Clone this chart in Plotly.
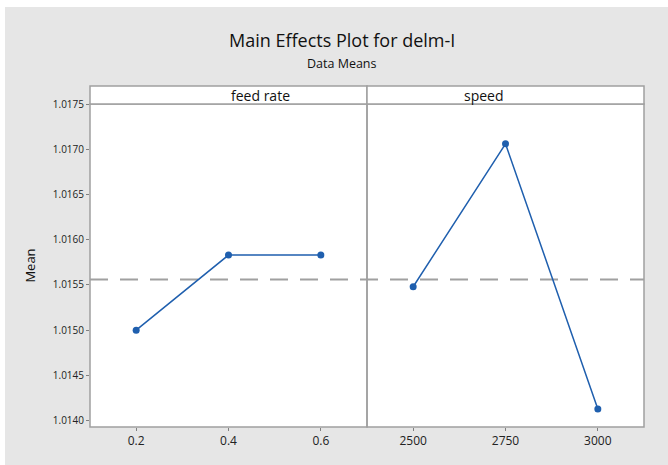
import plotly.graph_objects as go
from plotly.subplots import make_subplots

# Main effects data (means of delm-I at each factor level)
feed_levels = [0.2, 0.4, 0.6]
feed_means = [1.01500, 1.01583, 1.01583]
speed_levels = [2500, 2750, 3000]
speed_means = [1.01548, 1.01706, 1.01413]
grand_mean = 1.01556
y_ticks = [1.0140, 1.0145, 1.0150, 1.0155, 1.0160, 1.0165, 1.0170, 1.0175]
panel_titles = ["feed rate", "speed"]

W, H = 668, 465
L, R, T, B = 90, 24, 104, 38
ph = H - T - B
pw = W - L - R


def px_x(px):
    return (px - L) / pw


def px_y(py):
    return (H - B - py) / ph


line_color = "#1f5fae"
frame_color = "#a0a0a0"
font_family = "Open Sans, DejaVu Sans, sans-serif"

fig = make_subplots(rows=1, cols=2, shared_yaxes=True, horizontal_spacing=0)

fig.add_trace(go.Scatter(x=feed_levels, y=feed_means, mode="lines+markers",
                         line=dict(color=line_color, width=1.5),
                         marker=dict(color=line_color, size=7),
                         showlegend=False), row=1, col=1)
fig.add_trace(go.Scatter(x=speed_levels, y=speed_means, mode="lines+markers",
                         line=dict(color=line_color, width=1.5),
                         marker=dict(color=line_color, size=7),
                         showlegend=False), row=1, col=2)

# grey backdrop behind the whole chart, white data region on top of it
fig.add_shape(type="rect", xref="paper", yref="paper",
              x0=px_x(5), x1=px_x(W + 2), y0=px_y(H + 2), y1=px_y(7),
              fillcolor="#e6e6e6", line=dict(width=0), layer="below")
fig.add_shape(type="rect", xref="paper", yref="paper",
              x0=0, x1=1, y0=0, y1=1,
              fillcolor="white", line=dict(width=0), layer="below")

# grand mean reference line across both panels
fig.add_shape(type="line", xref="paper", yref="y", x0=0, x1=1,
              y0=grand_mean, y1=grand_mean,
              line=dict(color=frame_color, width=2, dash="18px,12px"),
              layer="below")

axis_common = dict(showgrid=False, zeroline=False, showline=False,
                   ticks="outside", ticklen=3, tickcolor="#808080")

fig.update_xaxes(**axis_common, tickfont=dict(size=12, color="#222", family=font_family))
fig.update_yaxes(**axis_common, tickfont=dict(size=10, color="#222", family=font_family))
fig.update_xaxes(range=[0.1, 0.7], tickvals=feed_levels,
                 ticktext=["0.2", "0.4", "0.6"], row=1, col=1)
fig.update_xaxes(range=[2375, 3125], tickvals=speed_levels,
                 ticktext=[str(v) for v in speed_levels], row=1, col=2)
fig.update_yaxes(range=[1.01393, 1.0175], tickvals=y_ticks,
                 ticktext=[f"{v:.4f}" for v in y_ticks], row=1, col=1)
fig.update_yaxes(showticklabels=False, ticks="", row=1, col=2)

# panel frames and strip headers
strip_top = px_y(86)
for i, title in enumerate(panel_titles):
    x0, x1 = i * 0.5, (i + 1) * 0.5
    fig.add_shape(type="rect", xref="paper", yref="paper", x0=x0, x1=x1,
                  y0=0, y1=1, line=dict(color=frame_color, width=1.5),
                  layer="above")
    fig.add_shape(type="rect", xref="paper", yref="paper", x0=x0, x1=x1,
                  y0=1, y1=strip_top, fillcolor="white",
                  line=dict(color=frame_color, width=1.5), layer="above")
    fig.add_annotation(x=(x0 + x1) / 2, y=(1 + strip_top) / 2, xref="paper",
                       yref="paper", text=title, showarrow=False,
                       font=dict(size=14, color="#111", family=font_family),
                       yanchor="middle")

# titles
fig.add_annotation(x=px_x(342), y=px_y(40), xref="paper", yref="paper",
                   xanchor="center", yanchor="middle", showarrow=False,
                   text="Main Effects Plot for delm-I",
                   font=dict(size=18, color="#111", family=font_family))
fig.add_annotation(x=px_x(342), y=px_y(63), xref="paper", yref="paper",
                   xanchor="center", yanchor="middle", showarrow=False,
                   text="Data Means",
                   font=dict(size=12.5, color="#111", family=font_family))

fig.update_yaxes(title=dict(text="Mean", standoff=14,
                            font=dict(size=13, color="#111", family=font_family)),
                 row=1, col=1)

fig.update_layout(width=W, height=H, margin=dict(l=L, r=R, t=T, b=B),
                  paper_bgcolor="white", plot_bgcolor="white",
                  font=dict(family=font_family))

fig.write_html("out.html")
